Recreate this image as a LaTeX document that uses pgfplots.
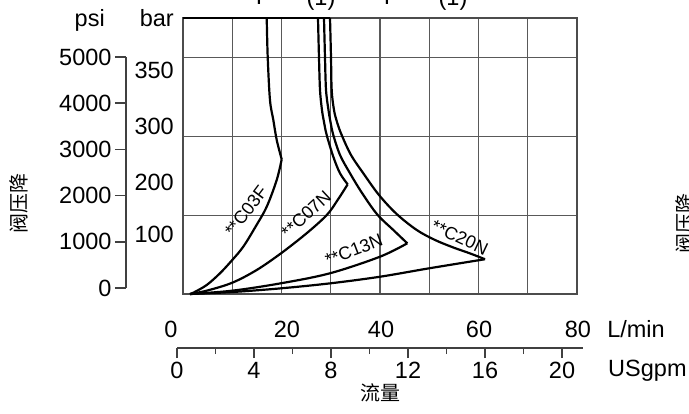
\documentclass[border=0pt]{standalone}
\usepackage{pgfplots}
\pgfplotsset{compat=1.18}
\usepackage{fontspec}
\setmainfont{Liberation Sans}
\newfontfamily\cjk{Noto Sans CJK SC}
\newcommand{\bigf}{\fontsize{23.5}{27}\selectfont}
\newcommand{\lab}{\fontsize{18}{21}\selectfont}
\newcommand{\cjkf}{\cjk\fontsize{20}{24}\selectfont}
\begin{document}
\begin{tikzpicture}[x=1pt,y=1pt]
\useasboundingbox (0,0) rectangle (689,413);

% top cut-off fragments
\node[anchor=base, font=\bigf, inner sep=0] at (259,408) {T};
\node[anchor=base, font=\bigf, inner sep=0] at (321,407.5) {(1)};
\node[anchor=base, font=\bigf, inner sep=0] at (387,408) {T};
\node[anchor=base, font=\bigf, inner sep=0] at (453,407.5) {(1)};

% side labels
\node[rotate=90, font=\cjkf] at (18.7,209) {阀压降};
\node[rotate=90, anchor=north, inner sep=0, font=\cjkf] at (675,189) {阀压降};

% main chart
\begin{axis}[
  at={(183pt,119pt)}, anchor=south west,
  scale only axis, width=394pt, height=276pt,
  xmin=0, xmax=80, ymin=0, ymax=350,
  xtick={10,20,...,70}, ytick={100,200,300},
  xticklabels={}, yticklabels={},
  major tick length=0pt,
  grid=major,
  major grid style={draw=black!65, line width=1.2pt},
  axis line style={draw=black!70, line width=1.5pt},
  clip=false,
]
% C03F
\addplot[black, line width=2.2pt, smooth, tension=0.55] coordinates {(1.42,0) (2.09,1.6) (4.81,11.4) (7.51,26.3) (10.0,43.1) (12.24,60.0) (14.7,85) (17.0,110.7) (19.03,144.6) (20.04,170.8)};
\addplot[black, line width=2.2pt, smooth, tension=0.55] coordinates {(20.04,170.8) (19.03,195.3) (18.34,220.7) (17.66,246.0) (17.2,300.5) (17.0,350)};
% C07N
\addplot[black, line width=2.2pt, smooth, tension=0.55] coordinates {(1.42,0) (4.81,4.2) (10.0,14.3) (14.96,30.4) (19.9,51.6) (25.1,77.0) (29.2,100.2) (31.4,119.2) (33.44,139.1)};
\addplot[black, line width=2.2pt, smooth, tension=0.55] coordinates {(33.44,139.1) (31.88,153.1) (30.52,174.1) (29.18,201.6) (28.63,218.1) (28.22,233.3) (27.82,258.7) (27.61,300.5) (27.41,350)};
% C13N
\addplot[black, line width=2.2pt, smooth, tension=0.55] coordinates {(1.42,0) (10.0,4.2) (19.9,13.6) (29.85,26.3) (40.0,47.3) (45.54,64.3)};
\addplot[black, line width=2.2pt, smooth, tension=0.55] coordinates {(45.54,64.3) (42.70,81.2) (39.45,100.8) (36.35,128.1) (33.91,153.1) (31.88,176.3) (30.52,201.6) (29.95,218.1) (29.54,233.3) (29.04,258.7) (28.83,300.5) (28.63,350)};
% C20N
\addplot[black, line width=2.2pt, smooth, tension=0.55] coordinates {(1.42,0) (10.0,2.5) (19.9,7.2) (30.0,13.6) (40.0,21.9) (50.0,32.6) (61.32,44.1)};
\addplot[black, line width=2.2pt, smooth, tension=0.55] coordinates {(61.32,44.1) (58.27,51.5) (54.88,59.0) (51.17,68.5) (47.45,81.2) (43.39,101.4) (39.80,125.5) (36.61,153.1) (34.11,176.3) (32.22,201.6) (31.27,218.1) (30.66,233.3) (30.19,258.7) (30.05,300.5) (29.85,350)};
% top segment
\addplot[black, line width=2.2pt] coordinates {(0,350) (29.85,350)};

% curve labels
\node[rotate=53, font=\lab, inner sep=1pt] at (axis cs:12.8,105.3) {**C03F};
\node[rotate=43, font=\lab, inner sep=1pt] at (axis cs:25.0,101.0) {**C07N};
\node[rotate=21, font=\lab, inner sep=1pt] at (axis cs:34.7,55.8) {**C13N};
\node[rotate=-25, font=\lab, inner sep=1pt] at (axis cs:56.2,72) {**C20N};

% bar labels
\node[anchor=east, font=\bigf, inner sep=0] at (axis cs:-1.83,284.1) {350};
\node[anchor=east, font=\bigf, inner sep=0] at (axis cs:-1.83,213) {300};
\node[anchor=east, font=\bigf, inner sep=0] at (axis cs:-1.83,142) {200};
\node[anchor=east, font=\bigf, inner sep=0] at (axis cs:-1.83,76.1) {100};
\node[anchor=base east, font=\bigf, inner sep=0] at (axis cs:-1.83,339.2) {bar};
\node[anchor=base east, font=\bigf, inner sep=0] at (axis cs:-15.84,339.2) {psi};
\end{axis}

% psi scale
\begin{axis}[
  at={(126pt,125pt)}, anchor=south west,
  scale only axis, width=10pt, height=231pt,
  xmin=0, xmax=1, ymin=0, ymax=5000,
  hide x axis, axis y line=left,
  y axis line style={-, line width=1.5pt, draw=black!75},
  ytick={0,1000,2000,3000,4000,5000},
  yticklabels={0,1000,2000,3000,4000,5000},
  tick align=outside, major tick length=11pt,
  major tick style={line width=1.5pt, draw=black!75},
  yticklabel style={font=\bigf},
  /pgf/number format/assume math mode=true,
]
\addplot[draw=none] coordinates {(0,0) (1,5000)};
\end{axis}

% flow scale
\begin{axis}[
  at={(177pt,65pt)}, anchor=south west,
  scale only axis, width=406pt, height=10pt,
  xmin=0, xmax=21.09, ymin=0, ymax=1,
  hide y axis, axis x line=bottom,
  x axis line style={-, line width=1.5pt, draw=black!75},
  xtick={0,4,8,12,16,20}, xticklabels={0,4,8,12,16,20},
  minor xtick={2,6,10,14,18},
  tick align=outside, major tick length=10pt, minor tick length=6pt,
  every tick/.style={line width=1.3pt, draw=black!75},
  xticklabel style={font=\bigf, yshift=-1pt},
  /pgf/number format/assume math mode=true,
  clip=false,
]
\addplot[draw=none] coordinates {(0,0) (20,1)};
\node[anchor=base, font=\bigf, inner sep=0, yshift=11pt] at (axis cs:-0.31,0) {0};
\node[anchor=base, font=\bigf, inner sep=0, yshift=11pt] at (axis cs:5.71,0) {20};
\node[anchor=base, font=\bigf, inner sep=0, yshift=11pt] at (axis cs:10.6,0) {40};
\node[anchor=base, font=\bigf, inner sep=0, yshift=11pt] at (axis cs:15.69,0) {60};
\node[anchor=base, font=\bigf, inner sep=0, yshift=11pt] at (axis cs:20.83,0) {80};
\node[anchor=base west, font=\bigf, inner sep=0, yshift=11pt] at (axis cs:22.34,0) {L/min};
\node[anchor=base west, font=\bigf, inner sep=0, yshift=-28pt] at (axis cs:22.39,0) {USgpm};
\node[font=\cjkf, yshift=-45pt] at (axis cs:10.55,0) {流量};
\end{axis}
\end{tikzpicture}
\end{document}
